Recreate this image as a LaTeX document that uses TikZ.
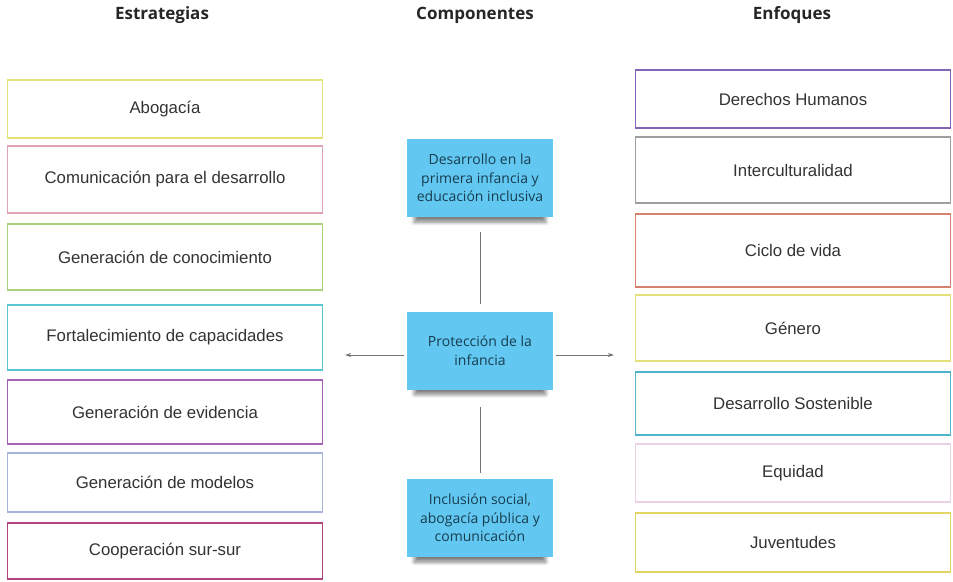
\documentclass[tikz,border=0pt]{standalone}
\usepackage{fontspec}
\setmainfont{Liberation Sans}
\newfontfamily\stickyfont{Open Sans}
\newfontfamily\headfont{Open Sans}
\usetikzlibrary{shadows,shadows.blur,arrows.meta}
\definecolor{cYel}{HTML}{E6E07A}
\definecolor{cPink}{HTML}{E2A3B3}
\definecolor{cGreen}{HTML}{A9D17E}
\definecolor{cCyan}{HTML}{5CC6D0}
\definecolor{cPurp}{HTML}{A461B5}
\definecolor{cLav}{HTML}{A6B3DA}
\definecolor{cMag}{HTML}{B2437F}
\definecolor{cVio}{HTML}{8464B4}
\definecolor{cGray}{HTML}{9E9E9E}
\definecolor{cOra}{HTML}{D6806E}
\definecolor{cTeal}{HTML}{4FB3CA}
\definecolor{cLPink}{HTML}{E9D3E3}
\definecolor{cYel2}{HTML}{E3D564}
\definecolor{sticky}{HTML}{62C8F2}
\definecolor{stickytext}{HTML}{173D4F}
\definecolor{boxtext}{HTML}{333333}
\begin{document}
\begin{tikzpicture}[x=1pt,y=-1pt,
  lbox/.style={draw=#1, line width=1.3pt, minimum width=315pt, inner sep=0pt, outer sep=0pt,
    font=\fontsize{16.8}{20}\selectfont, text=boxtext},
  note/.style={fill=sticky, minimum width=146pt, minimum height=78pt, inner sep=0pt,
    align=center, font=\stickyfont\fontsize{14}{18.5}\selectfont, text=stickytext,
    blur shadow={shadow xshift=0pt, shadow yshift=-10pt, shadow scale=0.9,
      shadow blur steps=8, shadow blur radius=4pt, shadow opacity=50}},
  head/.style={font=\headfont\bfseries\fontsize{17}{20}\selectfont, text=black!85},
  conn/.style={draw=black!55, line width=1pt},
  arr/.style={conn, -{Stealth[length=6pt,width=4pt]}}
]
\useasboundingbox (0,0) rectangle (953,581);
% headers
\node[head] (h1) at (162,15) {Estrategias};
\node[head] (h2) at (475,15) {Componentes};
\node[head] (h3) at (792,15) {Enfoques};
% left boxes
\node[lbox=cYel,  minimum height=58pt] (s1) at (165,109) {Abogacía};
\node[lbox=cPink, minimum height=67pt] (s2) at (165,179.5) {Comunicación para el desarrollo};
\node[lbox=cGreen,minimum height=66pt] (s3) at (165,257) {Generación de conocimiento};
\node[lbox=cCyan, minimum height=65pt] (s4) at (165,337.5) {Fortalecimiento de capacidades};
\node[lbox=cPurp, minimum height=64pt] (s5) at (165,412) {Generación de evidencia};
\node[lbox=cLav,  minimum height=59pt] (s6) at (165,482.5) {Generación de modelos};
\node[lbox=cMag,  minimum height=56pt] (s7) at (165,551) {Cooperación sur-sur};
% right boxes
\node[lbox=cVio,  minimum height=58pt] (e1) at (793,99) {Derechos Humanos};
\node[lbox=cGray, minimum height=66pt] (e2) at (793,170) {Interculturalidad};
\node[lbox=cOra,  minimum height=73pt] (e3) at (793,250.5) {Ciclo de vida};
\node[lbox=cYel,  minimum height=66pt] (e4) at (793,328) {Género};
\node[lbox=cTeal, minimum height=63pt] (e5) at (793,403.5) {Desarrollo Sostenible};
\node[lbox=cLPink,minimum height=58pt] (e6) at (793,473) {Equidad};
\node[lbox=cYel2, minimum height=59pt] (e7) at (793,542.5) {Juventudes};
% sticky notes
\node[note] (c1) at (480,178) {Desarrollo en la\\primera infancia y\\educación inclusiva};
\node[note] (c2) at (480,350.5) {Protección de la\\infancia};
\node[note] (c3) at (480,518) {Inclusión social,\\abogacía pública y\\comunicación};
% connectors
\coordinate (la) at (345,355);
\coordinate (ra) at (614,355);
\draw[conn, shorten <=15pt, shorten >=7pt] (c1.south) -- (c2.north);
\draw[conn, shorten <=17pt, shorten >=6pt] (c2.south) -- (c3.north);
\draw[arr, shorten <=3pt] (c2.west |- la) -- (la);
\draw[arr, shorten <=3pt] (c2.east |- ra) -- (ra);
\end{tikzpicture}
\end{document}
